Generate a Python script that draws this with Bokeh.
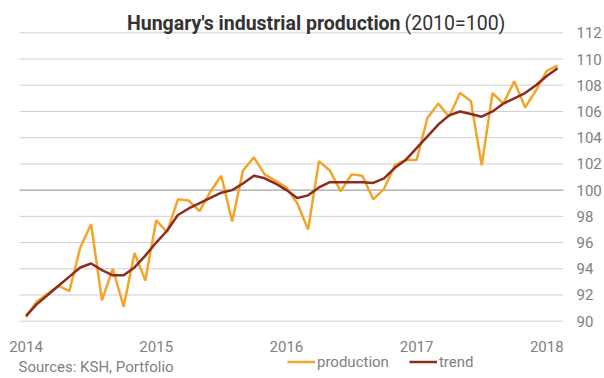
import pandas as pd
from bokeh.plotting import figure
from bokeh.models import (Range1d, FixedTicker, Label, Legend, LegendItem,
                          ColumnDataSource)
from bokeh.core.properties import value
from bokeh.embed import file_html
from bokeh.resources import INLINE

# ---- data (monthly, Jan 2014 - Feb 2018), 2010 = 100 ----
production = [
    90.3, 91.5, 92.1, 92.7, 92.3, 95.6, 97.4, 91.6, 94.0, 91.1, 95.2, 93.1,
    97.7, 96.8, 99.3, 99.2, 98.4, 99.9, 101.1, 97.6, 101.5, 102.5, 101.2, 100.7,
    100.2, 99.0, 97.0, 102.2, 101.5, 99.9, 101.2, 101.1, 99.3, 100.1, 101.9, 102.3,
    102.3, 105.5, 106.6, 105.6, 107.4, 106.8, 101.9, 107.4, 106.6, 108.3, 106.3, 107.6,
    109.1, 109.5,
]
trend = [
    90.4, 91.3, 92.0, 92.7, 93.4, 94.1, 94.4, 93.9, 93.5, 93.5, 94.1, 95.0,
    96.0, 96.9, 98.1, 98.6, 99.0, 99.4, 99.8, 100.0, 100.5, 101.1, 100.9, 100.5,
    100.0, 99.4, 99.6, 100.2, 100.6, 100.6, 100.6, 100.6, 100.55, 100.9, 101.7, 102.3,
    103.2, 104.1, 105.0, 105.7, 106.0, 105.8, 105.6, 106.0, 106.6, 107.0, 107.4, 108.0,
    108.7, 109.3,
]
months = pd.date_range("2014-01-01", periods=len(production), freq="MS")
year_labels = ["2014", "2015", "2016", "2017", "2018"]
y_ticks = [90, 92, 94, 96, 98, 100, 102, 104, 106, 108, 110, 112]
base_line = 100

idx = list(range(len(months)))
year_ticks = [i for i, m in enumerate(months) if m.month == 1]

# ---- layout (pixels of the 604x378 page) ----
W, H = 604, 378
FRAME_RIGHT = 563                 # right end of the grid lines
X0_PX, PX_PER_MONTH = 25.5, 10.85  # position of first month, month spacing
GRID_LEFT_PX = 19
TOP_PX, BOT_PX = 32.3, 320.7      # rows of the top and bottom grid lines
y_lo, y_hi = min(y_ticks), max(y_ticks)
ppu = (BOT_PX - TOP_PX) / (y_hi - y_lo)


def px_to_y(py):
    return y_lo + (BOT_PX - py) / ppu


def px_to_x(px):
    return (px - X0_PX) / PX_PER_MONTH


xr = Range1d(px_to_x(0), px_to_x(FRAME_RIGHT))
yr = Range1d(px_to_y(H), px_to_y(0))

src = ColumnDataSource(dict(x=idx, production=production, trend=trend))
ysrc = ColumnDataSource(dict(x=year_ticks, y=[px_to_y(346)] * len(year_ticks),
                             text=year_labels))
grid_x0, grid_x1 = px_to_x(GRID_LEFT_PX), px_to_x(FRAME_RIGHT)
gsrc = ColumnDataSource(dict(y=[t for t in y_ticks if t != base_line]))

GREY = "#7f7f7f"
FONT = "Roboto"

p = figure(width=W, height=H, output_backend="svg", toolbar_location=None,
           tools="", x_range=xr, y_range=yr, y_axis_location="right",
           min_border_left=0, min_border_right=W - FRAME_RIGHT,
           min_border_top=0, min_border_bottom=0, outline_line_color=None)

p.xaxis.visible = False
p.xgrid.grid_line_color = None
p.ygrid.grid_line_color = None

ax = p.yaxis[0]
ax.ticker = FixedTicker(ticks=y_ticks)
ax.axis_line_color = None
ax.major_tick_line_color = None
ax.minor_tick_line_color = None
ax.major_tick_out = 0
ax.major_label_text_font = FONT
ax.major_label_text_font_size = "15px"
ax.major_label_text_color = GREY
ax.major_label_standoff = 13

# horizontal grid lines (light) and the 100 base line (darker)
p.segment(x0=grid_x0, x1=grid_x1, y0="y", y1="y", source=gsrc,
          line_color="#cfcfcf", line_width=1, level="underlay")
p.segment(x0=grid_x0, x1=grid_x1, y0=base_line, y1=base_line,
          line_color="#8a8a8a", line_width=1, level="underlay")

# year labels (x axis)
p.text("x", "y", text="text", source=ysrc, text_align="center",
       text_baseline="alphabetic", text_font=value(FONT),
       text_font_size="15px", text_color=GREY)

r1 = p.line("x", "production", source=src, line_color="#F2A42B", line_width=2.5)
r2 = p.line("x", "trend", source=src, line_color="#8E2B1F", line_width=2.5)

legend = Legend(items=[LegendItem(label="production", renderers=[r1]),
                       LegendItem(label="trend", renderers=[r2])],
                orientation="horizontal", location=(287, H - 370.5),
                glyph_width=28, glyph_height=15, label_height=15,
                label_standoff=2, spacing=20, padding=0, margin=0,
                label_text_font=FONT, label_text_font_size="15px",
                label_text_color=GREY, background_fill_alpha=0,
                border_line_alpha=0)
p.add_layout(legend)

p.add_layout(Label(x=400, y=H - 23, x_units="screen", y_units="screen",
                   text="Hungary's industrial production", text_align="right",
                   text_baseline="alphabetic", text_font=FONT,
                   text_font_style="bold", text_font_size="19.5px",
                   text_color="#333333"))
p.add_layout(Label(x=404, y=H - 23, x_units="screen", y_units="screen",
                   text="(2010=100)", text_align="left",
                   text_baseline="alphabetic", text_font=FONT,
                   text_font_size="19.5px", text_color="#333333"))
p.add_layout(Label(x=18, y=H - 366.7, x_units="screen", y_units="screen",
                   text="Sources: KSH, Portfolio", text_align="left",
                   text_baseline="alphabetic", text_font=FONT,
                   text_font_size="15px", text_color=GREY))

open("out.html", "w").write(file_html(p, INLINE))
